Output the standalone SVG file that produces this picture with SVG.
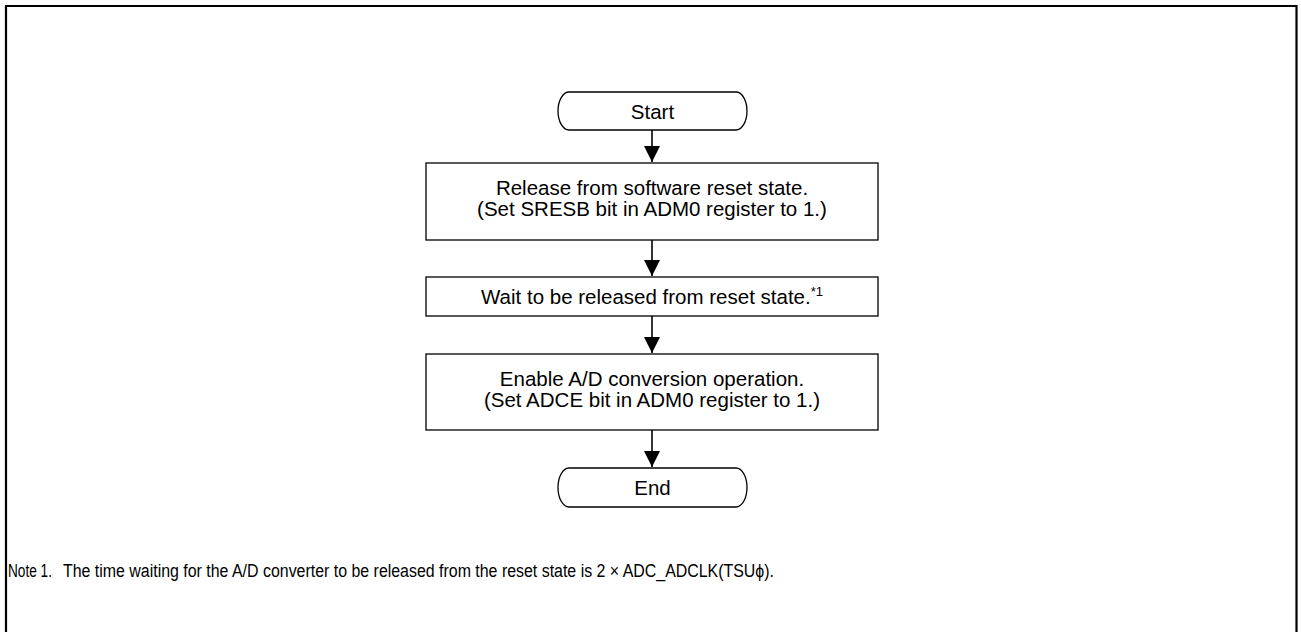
<svg xmlns="http://www.w3.org/2000/svg" width="1301" height="632" viewBox="0 0 1301 632">
<style>
.box{fill:#fff;stroke:#000;stroke-width:1.3}
.t{font-family:"Liberation Sans",Arial,sans-serif;font-size:20.5px;fill:#000;text-anchor:middle}
.n{font-family:"Liberation Sans",Arial,sans-serif;font-size:18px;fill:#000}
.c{stroke:#000;stroke-width:1.6;fill:none}
</style>
<defs>
<marker id="ah" markerUnits="userSpaceOnUse" markerWidth="18" markerHeight="18" viewBox="0 0 18 18" refX="16" refY="9" orient="auto">
<path d="M0,1 L16,9 L0,17 Z" fill="#000"/>
</marker>
</defs>
<rect x="0" y="0" width="1301" height="632" fill="#fff"/>
<path d="M6,632 V6 H1296.5 V632" fill="none" stroke="#000" stroke-width="2.2"/>
<g id="connectors">
<line class="c" x1="652" y1="130" x2="652" y2="162" marker-end="url(#ah)"/>
<line class="c" x1="652" y1="240" x2="652" y2="276" marker-end="url(#ah)"/>
<line class="c" x1="652" y1="316" x2="652" y2="353" marker-end="url(#ah)"/>
<line class="c" x1="652" y1="430" x2="652" y2="467" marker-end="url(#ah)"/>
</g>
<g id="start">
<path class="box" d="M569,92 H736 A11,19 0 0 1 736,130 H569 A11,19 0 0 1 569,92 Z"/>
<text class="t" x="652.5" y="119">Start</text>
</g>
<g id="release">
<rect class="box" x="426" y="163" width="452" height="77"/>
<text class="t" x="652" y="195">Release from software reset state.</text>
<text class="t" x="652" y="216">(Set SRESB bit in ADM0 register to 1.)</text>
</g>
<g id="wait">
<rect class="box" x="426" y="277" width="452" height="39"/>
<text class="t" x="652" y="304">Wait to be released from reset state.<tspan font-size="13" dy="-8">*1</tspan></text>
</g>
<g id="enable">
<rect class="box" x="426" y="354" width="452" height="76"/>
<text class="t" x="652" y="386">Enable A/D conversion operation.</text>
<text class="t" x="652" y="407">(Set ADCE bit in ADM0 register to 1.)</text>
</g>
<g id="end">
<path class="box" d="M569,468 H736 A11,19.5 0 0 1 736,507 H569 A11,19.5 0 0 1 569,468 Z"/>
<text class="t" x="652.5" y="495">End</text>
</g>
<g id="note">
<text class="n" x="8" y="577" textLength="44" lengthAdjust="spacingAndGlyphs">Note 1.</text>
<text class="n" x="63" y="577" textLength="711" lengthAdjust="spacingAndGlyphs">The time waiting for the A/D converter to be released from the reset state is 2 × ADC_ADCLK(TSUϕ).</text>
</g>
</svg>
